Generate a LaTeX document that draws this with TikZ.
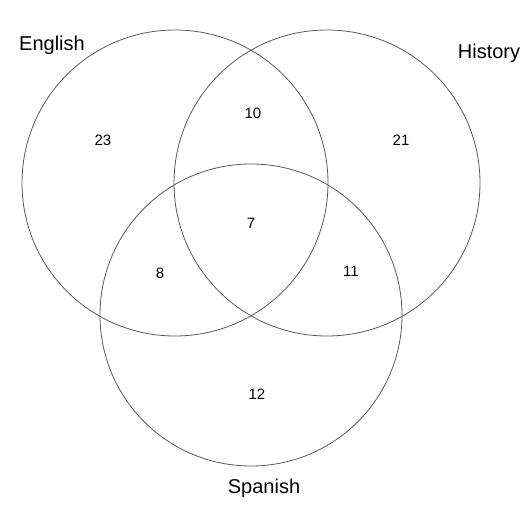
\documentclass[tikz,border=0pt]{standalone}
\usepackage{fontspec}
\setmainfont{Liberation Sans}
\begin{document}
\begin{tikzpicture}[x=1pt, y=-1pt, thin]
	\tikzset{set/.style={draw, gray!70!black, line width=0.8pt},
		lbl/.style={font=\fontsize{20}{22}\selectfont},
		num/.style={font=\fontsize{15}{17}\selectfont}}
	\useasboundingbox (0, 0) rectangle (531, 521);
	\draw[set] (175, 183) circle (153);
	\draw[set] (327, 183) circle (153);
	\draw[set] (251, 315) circle (151);
	\node[lbl] (english) at (52, 45) {English};
	\node[lbl] (history) at (489, 53) {History};
	\node[lbl] (spanish) at (264, 488) {Spanish};
	\node[num] (e) at (103, 140) {23};
	\node[num] (h) at (401, 140) {21};
	\node[num] (s) at (257, 394) {12};
	\node[num] (eh) at (253, 113) {10};
	\node[num] (es) at (160, 273) {8};
	\node[num] (hs) at (351, 271) {11};
	\node[num] (ehs) at (251, 223) {7};
\end{tikzpicture}
\end{document}
